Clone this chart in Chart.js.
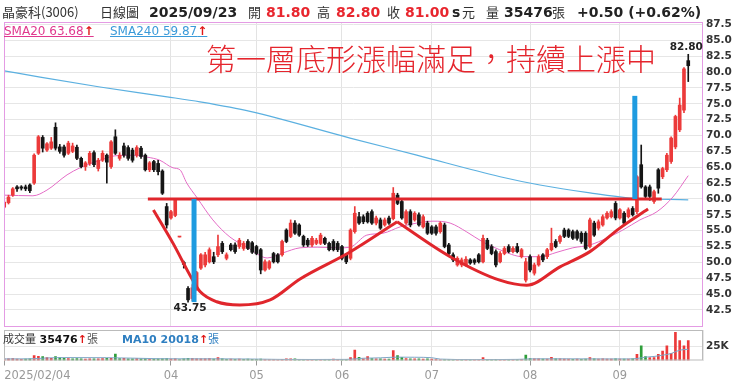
<!DOCTYPE html>
<html lang="zh-Hant">
<head>
<meta charset="UTF-8">
<title>晶豪科(3006) 日線圖</title>
<script src="https://cdn.jsdelivr.net/npm/chart.js@4.4.1/dist/chart.umd.min.js"></script>
<style>
  html, body { margin: 0; padding: 0; background: #fff; }
  .page { position: relative; width: 740px; height: 384px; overflow: hidden; }
  canvas { position: absolute; left: 0; }
  #mainChart { top: 0; }
  #volChart { top: 328px; }
  .t { position: absolute; white-space: nowrap; line-height: 1; z-index: 2; }
  .cjk { font-family: "Noto Sans CJK TC", sans-serif; font-size: 13px; color: #333; }
  .num { font-family: "DejaVu Sans", sans-serif; font-weight: bold; font-size: 14px; color: #222; }
  .red { color: #e8262e; }
  .leg { font-family: "DejaVu Sans", sans-serif; font-size: 12px; text-decoration: underline; }
  .arrow { color: #e01818; font-weight: bold; }
  .note { font-family: "Noto Sans CJK TC", sans-serif; font-weight: 300; font-size: 30px; color: #e5252d; }
  .vlab { font-family: "DejaVu Sans", sans-serif; font-size: 11px; }
</style>
</head>
<body>
<div class="page">
  <canvas id="mainChart" width="740" height="328"></canvas>
  <canvas id="volChart" width="740" height="56"></canvas>

  <!-- header line -->
  <span class="t cjk" style="left:2px;top:5px">晶豪科(3006)</span>
  <span class="t cjk" style="left:100px;top:5px">日線圖</span>
  <span class="t num" style="left:149px;top:5px">2025/09/23</span>
  <span class="t cjk" style="left:248px;top:5px">開</span>
  <span class="t num red" style="left:266px;top:5px">81.80</span>
  <span class="t cjk" style="left:317px;top:5px">高</span>
  <span class="t num red" style="left:336px;top:5px">82.80</span>
  <span class="t cjk" style="left:387px;top:5px">收</span>
  <span class="t num red" style="left:405px;top:5px">81.00</span>
  <span class="t num" style="left:452px;top:5px">s</span>
  <span class="t cjk" style="left:462px;top:5px">元</span>
  <span class="t cjk" style="left:486px;top:5px">量</span>
  <span class="t num" style="left:504px;top:5px">35476</span>
  <span class="t cjk" style="left:552px;top:5px">張</span>
  <span class="t num" style="left:577px;top:5px">+0.50 (+0.62%)</span>

  <!-- moving average legend -->
  <span class="t leg" style="left:4px;top:25px;color:#e0388e">SMA20 63.68<span class="arrow">↑</span></span>
  <span class="t leg" style="left:110px;top:25px;color:#3a9ad9">SMA240 59.87<span class="arrow">↑</span></span>

  <!-- annotation -->
  <span class="t note" style="left:206px;top:42px">第一層底形漲幅滿足，持續上漲中</span>

  <!-- volume legend -->
  <span class="t vlab" style="left:3px;top:333px;color:#333"><span style="font-family:'Noto Sans CJK TC'">成交量</span> <b style="color:#111">35476</b><span class="arrow">↑</span><span style="font-family:'Noto Sans CJK TC';color:#555">張</span></span>
  <span class="t vlab" style="left:122px;top:333px;color:#2f7fc1"><b>MA10 20018</b><span class="arrow">↑</span><span style="font-family:'Noto Sans CJK TC'">張</span></span>
</div>

<script>
// daily candles, 2025/02/04 .. 2025/09/23 (161 trading days)
const openP = [
  58.7, 59.4, 60.6, 61.9, 61.9, 61.9, 62.2, 62.5, 67.2, 69.7,
  67.7, 68.0, 71.3, 68.2, 68.2, 67.2, 67.5, 68.15, 66.4, 65.1,
  65.6, 67.3, 64.8, 66.1, 66.9, 65.1, 69.8, 66.4, 68.35, 68.1,
  67.7, 66.9, 68.0, 66.9, 64.6, 65.9, 65.6, 64.4, 58.8, 57.0,
  57.4, 54.0, 50.0, 45.9, 44.3, 45.9, 49.1, 49.6, 50.1, 50.9,
  51.2, 53.0, 50.65, 52.75, 52.75, 52.5, 52.2, 53.3, 53.1, 52.5,
  52.0, 48.8, 49.1, 51.4, 51.2, 51.2, 55.1, 54.1, 56.2, 55.9,
  54.1, 53.5, 52.75, 53.0, 53.0, 53.8, 53.0, 53.3, 53.0, 52.5,
  51.2, 50.65, 54.85, 57.2, 57.2, 57.75, 58.0, 56.2, 56.7, 55.9,
  57.0, 56.9, 60.6, 59.6, 56.2, 58.0, 56.7, 57.5, 55.6, 56.2,
  55.6, 55.6, 54.85, 55.9, 52.75, 51.2, 49.6, 49.6, 49.6, 50.4,
  50.4, 51.2, 50.1, 53.5, 52.5, 51.7, 50.1, 51.4, 52.5, 51.7,
  52.5, 50.9, 47.2, 50.9, 48.3, 49.6, 51.2, 50.9, 52.0, 53.3,
  53.3, 55.1, 55.1, 54.85, 54.85, 54.6, 54.6, 52.5, 56.2, 55.4,
  55.9, 57.0, 57.2, 59.3, 57.0, 57.75, 57.2, 58.5, 58.0, 65.4,
  61.9, 61.9, 59.6, 64.6, 63.5, 64.6, 65.9, 68.2, 70.9, 74.0,
  81.8
];
const highP = [
  59.8, 60.6, 61.8, 62.1, 62.1, 62.2, 62.4, 67.1, 70.0, 70.0,
  68.9, 69.7, 72.0, 68.6, 68.5, 69.1, 68.8, 68.5, 66.6, 65.9,
  67.5, 67.6, 66.4, 67.6, 67.1, 69.2, 70.9, 67.3, 68.8, 68.4,
  68.0, 68.4, 68.3, 67.1, 65.9, 66.1, 66.1, 64.6, 59.3, 58.2,
  60.0, 54.0, 50.2, 46.2, 46.5, 48.6, 51.4, 51.6, 52.3, 51.6,
  54.3, 53.3, 51.5, 53.0, 53.1, 53.8, 53.3, 53.6, 53.3, 52.7,
  52.2, 50.4, 50.3, 51.6, 51.4, 53.5, 55.3, 56.7, 56.6, 56.1,
  54.3, 53.8, 54.1, 53.8, 54.6, 54.0, 53.2, 53.6, 53.3, 52.7,
  51.4, 55.3, 58.8, 57.9, 57.5, 58.0, 58.3, 57.3, 57.0, 57.0,
  57.3, 61.8, 60.9, 59.9, 58.3, 58.3, 58.0, 57.8, 57.5, 56.5,
  55.8, 55.9, 56.4, 56.2, 53.0, 51.5, 50.9, 50.7, 50.9, 50.6,
  50.6, 51.4, 54.3, 53.8, 52.8, 52.0, 51.7, 52.5, 52.8, 52.5,
  53.0, 52.2, 50.65, 51.2, 49.9, 51.2, 51.4, 52.2, 55.4, 53.6,
  54.3, 55.4, 55.3, 55.1, 55.1, 54.85, 54.85, 57.0, 56.5, 56.7,
  57.5, 58.0, 58.3, 59.6, 58.5, 58.0, 58.6, 58.8, 63.7, 68.5,
  62.1, 62.2, 61.4, 64.8, 65.0, 67.2, 69.8, 73.2, 75.9, 80.7,
  82.8
];
const lowP = [
  58.5, 59.2, 60.4, 61.2, 61.4, 61.3, 61.0, 62.3, 67.0, 67.4,
  67.5, 67.8, 67.7, 67.2, 66.6, 67.0, 67.3, 66.2, 64.9, 64.5,
  65.3, 65.1, 64.4, 65.9, 62.5, 64.8, 67.0, 66.1, 66.6, 66.1,
  65.8, 66.6, 66.4, 64.4, 64.3, 64.3, 63.8, 60.7, 55.4, 56.8,
  57.2, 54.0, 49.1, 43.75, 44.0, 45.6, 48.9, 49.3, 49.9, 49.8,
  50.9, 51.4, 50.4, 51.8, 51.4, 52.2, 51.9, 52.0, 51.4, 51.2,
  48.2, 48.6, 48.9, 49.9, 49.9, 51.0, 53.1, 53.9, 54.4, 54.1,
  52.5, 52.5, 52.5, 52.8, 52.8, 52.8, 51.8, 51.8, 51.7, 50.4,
  49.8, 50.4, 54.6, 56.0, 56.1, 56.2, 56.0, 55.9, 55.2, 55.7,
  56.0, 56.7, 59.1, 56.8, 56.0, 55.6, 56.5, 55.7, 55.4, 54.4,
  54.4, 54.3, 54.6, 52.3, 51.2, 50.1, 49.4, 49.3, 49.4, 49.7,
  49.7, 49.9, 49.9, 52.0, 51.2, 49.3, 49.9, 51.2, 51.5, 51.5,
  51.5, 50.7, 46.9, 48.5, 48.0, 49.4, 50.1, 50.6, 51.8, 52.3,
  53.0, 53.9, 53.9, 53.6, 53.5, 53.0, 52.0, 52.3, 54.1, 55.1,
  55.7, 56.8, 57.0, 56.7, 56.8, 56.0, 57.0, 57.3, 57.7, 61.7,
  60.1, 59.8, 59.3, 60.9, 63.2, 64.3, 65.6, 67.9, 70.6, 73.6,
  78.5
];
const closeP = [
  59.5, 60.3, 61.6, 61.6, 61.7, 61.6, 61.3, 66.9, 69.8, 68.0,
  68.7, 69.0, 68.0, 67.5, 66.9, 68.8, 68.35, 66.4, 65.1, 65.7,
  67.2, 65.4, 66.1, 67.2, 65.8, 69.0, 67.2, 66.9, 66.9, 66.4,
  66.1, 68.1, 66.7, 64.6, 65.7, 64.6, 64.3, 60.9, 55.9, 58.0,
  60.0, 54.0, 49.7, 44.1, 46.0, 48.4, 51.2, 51.2, 52.0, 50.1,
  52.5, 51.7, 51.2, 52.0, 51.7, 53.5, 53.0, 52.2, 51.6, 51.4,
  48.8, 50.1, 50.1, 50.1, 50.1, 53.3, 53.3, 56.2, 54.6, 54.3,
  52.75, 52.75, 53.8, 53.5, 54.3, 53.0, 52.0, 52.0, 52.0, 50.65,
  50.1, 55.1, 57.75, 56.2, 56.4, 56.4, 56.2, 57.0, 55.4, 56.7,
  56.2, 60.9, 59.3, 57.0, 58.0, 55.9, 57.75, 55.9, 57.2, 54.6,
  54.6, 54.6, 56.2, 52.5, 51.4, 50.4, 50.65, 50.4, 50.5, 49.9,
  50.0, 50.1, 53.8, 52.2, 51.4, 49.6, 51.4, 52.2, 51.7, 52.2,
  51.7, 52.0, 50.1, 48.8, 49.6, 50.9, 50.4, 52.0, 53.0, 52.5,
  54.1, 54.1, 54.1, 53.8, 53.8, 53.3, 52.2, 56.7, 54.3, 56.4,
  57.2, 57.75, 58.0, 57.0, 58.3, 56.2, 58.3, 57.5, 63.5, 61.9,
  60.4, 60.4, 61.15, 61.7, 64.8, 66.9, 69.6, 73.0, 74.8, 80.5,
  81.0
];
// 成交量 (張)
const volume = [
  3000, 2800, 3500, 2500, 2200, 2500, 2800, 8600, 7400, 7000,
  5000, 3900, 6800, 5000, 4000, 3500, 2800, 3500, 3200, 2500,
  3000, 3200, 2800, 3500, 3800, 4000, 11600, 3500, 3800, 3200,
  3000, 3300, 2800, 3500, 2600, 2400, 2800, 3200, 3500, 2600,
  2800, 1800, 3000, 3800, 3500, 3200, 3000, 2800, 3300, 2600,
  5000, 2800, 2200, 2500, 2300, 2600, 2200, 2400, 2300, 2000,
  2600, 1800, 1600, 1500, 1400, 2200, 3200, 3000, 2800, 1800,
  1700, 1500, 1600, 1400, 1600, 1500, 1700, 2500, 1600, 1800,
  1700, 5000, 18700, 5500, 3200, 6800, 3300, 2800, 3000, 2600,
  2500, 17600, 8600, 5600, 3500, 3200, 3000, 2800, 2600, 2800,
  2500, 1500, 1400, 1800, 1500, 1300, 1200, 1400, 1200, 1300,
  1200, 1400, 5000, 2000, 1800, 2000, 1600, 1500, 1700, 1500,
  1800, 2000, 9800, 3500, 2800, 3000, 2500, 2600, 5600, 2800,
  3000, 2600, 2400, 2200, 2500, 2300, 2600, 5000, 3000, 2600,
  2800, 2400, 2500, 3200, 2600, 2400, 2500, 2800, 11000, 26000,
  6800, 5000, 5000, 11000, 17000, 26000, 12800, 50300, 35400, 26000,
  35476
];

// moving averages (bar index, value)
const sma20Idx = [0, 6.7, 10, 14.7, 17.7, 22.4, 25.9, 30.1, 33.4, 36.4, 39.5, 41.1, 42.7, 45.1, 48.8, 52.8, 56.8, 60.5, 61.5, 65.2, 69.2, 73.2, 78.5, 80.9, 84.8, 88.6, 92.6, 96.5, 100.3, 104.3, 108.2, 112, 115.9, 121.3, 125.3, 129.3, 133, 137, 141, 144.7, 148.7, 152.7, 156.4, 160];
const sma20Val = [60.6, 60.5, 61.4, 63.8, 64.9, 66.1, 66.8, 66.9, 66.6, 66.1, 64.9, 64.6, 62.5, 60.2, 56.7, 54.0, 52.4, 50.85, 50.7, 51.5, 52.3, 52.4, 52.3, 52.4, 54.3, 54.6, 55.6, 56.2, 56.5, 56.2, 54.8, 53.2, 52.0, 50.9, 50.9, 51.6, 52.3, 52.75, 53.85, 55.1, 56.7, 58.0, 60.3, 63.68];
const sma240Idx = [0, 8.4, 22.4, 38.1, 45.8, 57.5, 80.9, 96.5, 116, 125.3, 137, 146.3, 160];
const sma240Val = [80.2, 79.2, 77.65, 76.1, 75.3, 73.8, 69.6, 66.9, 63.5, 62.2, 60.95, 60.15, 59.87];
const volMaIdx = [0, 6, 10, 14, 24, 30, 36, 42, 50, 58, 64, 72, 80, 84, 88, 92, 96, 100, 102, 110, 120, 124, 132, 140, 146, 148, 150, 152, 154, 156, 158, 160];
const volMaVal = [2800, 3000, 4500, 5200, 5000, 4200, 3200, 3000, 3000, 2600, 2000, 1800, 2000, 4000, 4800, 6000, 5800, 5000, 2500, 1600, 2000, 3000, 3000, 2800, 2800, 3600, 6000, 7200, 9500, 12500, 18500, 20018];

// axes
const monthTickIdx = [0, 39, 59, 79, 100, 123, 144];
const monthTickText = ['2025/02/04', '04', '05', '06', '07', '08', '09'];
const priceTicks = [42.5, 45, 47.5, 50, 52.5, 55, 57.5, 60, 62.5, 65, 67.5, 70, 72.5, 75, 77.5, 80, 82.5, 85, 87.5];

// hand drawn guides (bar index, price)
const neckIdx = [33.6, 153.8];
const neckVal = [60, 60];
const cupLeftIdx = [34.9, 39.5, 43.85, 45.8, 49.7, 55.1, 62.2, 69.2, 80.9, 91.9];
const cupLeftVal = [58.27, 53.0, 47.5, 45.4, 43.8, 43.3, 44.1, 47.4, 51.65, 56.4];
const cupRightIdx = [91.9, 104.3, 115.9, 122.2, 130, 137, 144, 150.6];
const cupRightVal = [56.4, 50.9, 47.2, 46.4, 49.3, 51.7, 55.4, 58.4];
const targetIdx = [44.4, 147.5];
const targetLow = [43.75, 60];
const targetHigh = [60, 76.25];

const RED = '#ec3a3a', BLACK = '#151515', VGREEN = '#2e9e3a';
const X_MIN = -0.05, X_MAX = 163.45;

const idx = closeP.map((_, i) => i);
const candleColor = idx.map(i => closeP[i] >= openP[i] ? RED : BLACK);
const volColor = idx.map(i => (i === 0 || closeP[i] >= closeP[i - 1]) ? RED : VGREEN);
const pairs = (xs, ys) => xs.map((x, i) => ({ x: x, y: ys[i] }));

function guide(points, color, width, order) {
  return {
    type: 'line', data: points, borderColor: color, borderWidth: width,
    pointRadius: 0, cubicInterpolationMode: 'monotone', order: order
  };
}

// keep the plot areas exactly where the picture has them
const noPad = s => { s.paddingTop = 0; s.paddingBottom = 0; s.paddingLeft = 0; s.paddingRight = 0; };

const xCommon = {
  type: 'linear', min: X_MIN, max: X_MAX, offset: false,
  afterBuildTicks: s => { s.ticks = monthTickIdx.map(v => ({ value: v })); }
};

const framePlugin = color => ({
  id: 'frame' + color.slice(1),
  afterDatasetsDraw(chart) {
    const a = chart.chartArea, c = chart.ctx;
    c.save();
    c.strokeStyle = color;
    c.lineWidth = 1;
    c.strokeRect(a.left + 0.5, a.top + 0.5, a.right - a.left - 1, a.bottom - a.top - 1);
    c.restore();
  }
});

const extremeLabels = {
  id: 'extremes',
  afterDatasetsDraw(chart) {
    const c = chart.ctx, xs = chart.scales.x, ys = chart.scales.y;
    const hi = highP.indexOf(Math.max(...highP));
    const lo = lowP.indexOf(Math.min(...lowP));
    c.save();
    c.fillStyle = '#222';
    c.font = 'bold 10.5px "DejaVu Sans"';
    c.textAlign = 'center';
    c.textBaseline = 'bottom';
    c.fillText(highP[hi].toFixed(2), xs.getPixelForValue(hi) - 2, ys.getPixelForValue(highP[hi]) - 2);
    c.textBaseline = 'top';
    c.fillText(lowP[lo].toFixed(2), xs.getPixelForValue(lo) + 2, ys.getPixelForValue(lowP[lo]) + 1);
    c.restore();
  }
};

new Chart(document.getElementById('mainChart'), {
  type: 'bar',
  data: {
    datasets: [
      guide(pairs(sma240Idx, sma240Val), '#5bb0e0', 1.2, 9),
      guide(pairs(sma20Idx, sma20Val), '#e46cc6', 1, 8),
      {
        data: idx.map(i => ({ x: i, y: [lowP[i], highP[i]] })),
        backgroundColor: candleColor, barThickness: 1, grouped: false, order: 7
      },
      {
        data: idx.map(i => ({ x: i, y: [openP[i], closeP[i]] })),
        backgroundColor: candleColor, barThickness: 3, minBarLength: 1, grouped: false, order: 6
      },
      guide(pairs(neckIdx, neckVal), '#e0262c', 3, 5),
      guide(pairs(cupLeftIdx, cupLeftVal), '#e0262c', 3, 4),
      guide(pairs(cupRightIdx, cupRightVal), '#e0262c', 3, 4),
      guide([{ x: targetIdx[0], y: targetLow[0] }, { x: targetIdx[0], y: targetHigh[0] }], '#1e9be0', 5, 3),
      guide([{ x: targetIdx[1], y: targetLow[1] }, { x: targetIdx[1], y: targetHigh[1] }], '#1e9be0', 5, 3)
    ]
  },
  options: {
    responsive: false, animation: false, devicePixelRatio: 1, events: [],
    layout: { padding: { left: 4, top: 22, right: 0, bottom: 1 } },
    plugins: { legend: { display: false }, tooltip: { enabled: false } },
    scales: {
      x: Object.assign({}, xCommon, {
        afterFit: s => { s.height = 0; noPad(s); },
        ticks: { display: false },
        grid: { color: '#e3e3e3', drawTicks: false, offset: false },
        border: { display: false }
      }),
      y: {
        position: 'right', min: 39.82, max: 87.89,
        afterBuildTicks: s => { s.ticks = priceTicks.map(v => ({ value: v })); },
        afterFit: s => { s.width = 37; noPad(s); },
        ticks: {
          autoSkip: false, padding: 3, color: '#333',
          font: { family: 'DejaVu Sans', size: 10.5, weight: 'bold' },
          callback: v => Number(v).toFixed(1)
        },
        grid: { color: '#e6e6e6', drawTicks: false },
        border: { display: false }
      }
    }
  },
  plugins: [framePlugin('#e49be4'), extremeLabels]
});

new Chart(document.getElementById('volChart'), {
  type: 'bar',
  data: {
    datasets: [
      guide(pairs(volMaIdx, volMaVal), '#7ea6c6', 1, 1),
      {
        data: idx.map(i => ({ x: i, y: volume[i] })),
        backgroundColor: volColor, barThickness: 2, grouped: false, order: 2
      }
    ]
  },
  options: {
    responsive: false, animation: false, devicePixelRatio: 1, events: [],
    layout: { padding: { left: 4, top: 2, right: 0, bottom: 1 } },
    plugins: { legend: { display: false }, tooltip: { enabled: false } },
    scales: {
      x: Object.assign({}, xCommon, {
        afterBuildTicks: s => {
          s.ticks = monthTickIdx.map(v => ({ value: v })).concat([{ value: X_MAX }]);
        },
        afterFit: s => { s.height = 22.5; noPad(s); },
        ticks: {
          autoSkip: false, maxRotation: 0, align: 'inner', padding: 4, color: '#999',
          font: { family: 'DejaVu Sans', size: 11.5 },
          callback: v => { const k = monthTickIdx.indexOf(v); return k < 0 ? '' : monthTickText[k]; }
        },
        grid: {
          color: '#e6e6e6', offset: false, tickLength: 5,
          tickColor: c => (c.tick && c.tick.value > 160) ? 'rgba(0,0,0,0)' : '#999'
        },
        border: { display: false }
      }),
      y: {
        position: 'right', min: 0, max: 54500,
        afterBuildTicks: s => { s.ticks = [{ value: 25000 }]; },
        afterFit: s => { s.width = 37; noPad(s); },
        ticks: {
          padding: 3, color: '#333',
          font: { family: 'DejaVu Sans', size: 10.5, weight: 'bold' },
          callback: () => '25K'
        },
        grid: { color: '#e6e6e6', drawTicks: false },
        border: { display: false }
      }
    }
  },
  plugins: [framePlugin('#bbbbbb')]
});
</script>
</body>
</html>
